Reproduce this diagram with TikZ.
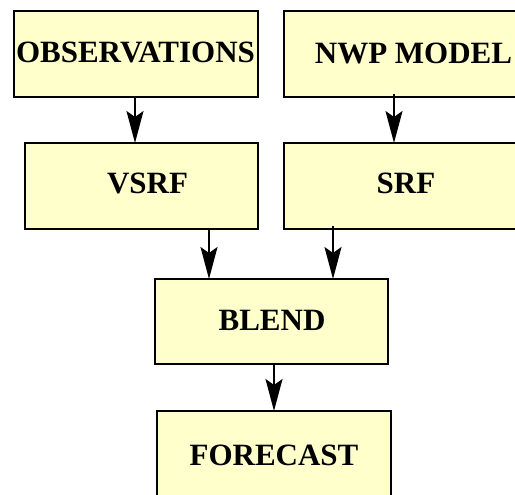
\documentclass[tikz,border=0pt]{standalone}
\usepackage{fontspec}
\setmainfont{Liberation Serif}
\usetikzlibrary{arrows.meta}
\definecolor{boxfill}{RGB}{255,255,204}
\tikzset{
  box/.style={draw=black, fill=boxfill, line width=2.6pt, rectangle, inner sep=0pt, outer sep=0pt},
  lbl/.style={inner sep=0pt, font=\fontsize{31}{32}\selectfont\bfseries},
  arr/.style={line width=2pt, -{Stealth[length=32pt, width=17pt, inset=6pt]}}
}
\begin{document}
\begin{tikzpicture}[x=1pt, y=-1pt]
\clip (0,0) rectangle (515,495);
\fill[white] (0,0) rectangle (515,495);
% boxes
\node[box, minimum width=244pt, minimum height=86pt] (obs) at (136,54) {};
\node[box, minimum width=259pt, minimum height=86pt] (nwp) at (413.5,54) {};
\node[box, minimum width=233pt, minimum height=86pt] (vsrf) at (141.5,186) {};
\node[box, minimum width=244pt, minimum height=86pt] (srf) at (406,186) {};
\node[box, minimum width=233pt, minimum height=85pt] (blend) at (271.5,321.5) {};
\node[box, minimum width=234pt, minimum height=88pt] (fc) at (274,455) {};
% labels
\node[lbl] (tobs) at (135.5,52.5) {OBSERVATIONS};
\node[lbl] (tnwp) at (413.5,53.5) {NWP MODEL};
\node[lbl] (tvsrf) at (147.5,183) {VSRF};
\node[lbl] (tsrf) at (406,183) {SRF};
\node[lbl] (tblend) at (272,320) {BLEND};
\node[lbl] (tfc) at (274,455) {FORECAST};
% connectors
\draw[arr] ([xshift=-1pt]obs.south) -- ([xshift=-1pt]obs.south |- vsrf.north);
\draw[arr] ([xshift=-19.5pt,yshift=3pt]nwp.south) -- ([xshift=-19.5pt]nwp.south |- srf.north);
\draw[arr] ([xshift=67.5pt]vsrf.south) -- ([xshift=67.5pt]vsrf.south |- blend.north);
\draw[arr] ([xshift=-73pt,yshift=3pt]srf.south) -- ([xshift=-73pt]srf.south |- blend.north);
\draw[arr] (blend.south -| fc.north) -- (fc.north);
\end{tikzpicture}
\end{document}
